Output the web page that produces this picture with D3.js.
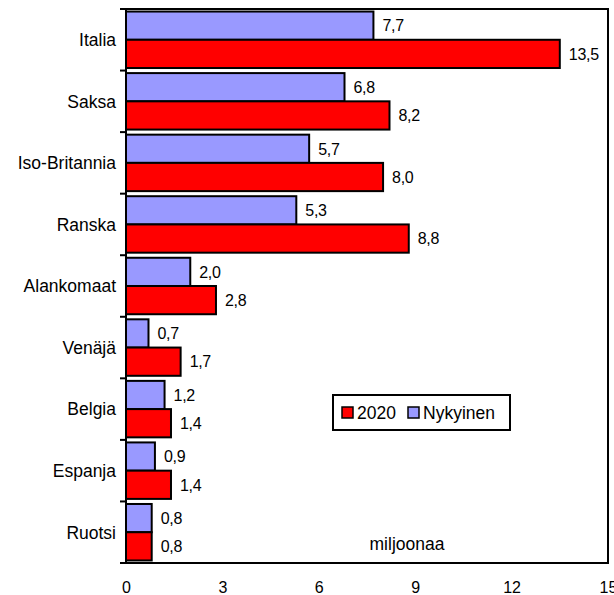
<!DOCTYPE html>
<html>
<head>
<meta charset="utf-8">
<script src="https://cdn.jsdelivr.net/npm/d3@7"></script>
<style>
  html, body { margin: 0; padding: 0; background: #fff; }
  svg { display: block; font-family: "Liberation Sans", Arial, sans-serif; }
</style>
</head>
<body>
<svg id="chart" width="614" height="595"></svg>
<script>
// Matkailijamäärät maittain (miljoonaa)
const countries = ["Italia", "Saksa", "Iso-Britannia", "Ranska", "Alankomaat", "Venäjä", "Belgia", "Espanja", "Ruotsi"];
const current = [7.7, 6.8, 5.7, 5.3, 2.0, 0.7, 1.2, 0.9, 0.8];   // Nykyinen
const future2020 = [13.5, 8.2, 8.0, 8.8, 2.8, 1.7, 1.4, 1.4, 0.8]; // 2020
const xTicks = [0, 3, 6, 9, 12, 15];
const seriesNames = ["Nykyinen", "2020"];
const seriesColors = ["#9999FF", "#FF0000"];

const svg = d3.select("#chart");
const margin = { left: 126, right: 6, top: 9, bottom: 32 };
const W = 614, H = 595;
const x0 = margin.left, x1 = W - margin.right, y0 = margin.top, y1 = H - margin.bottom;

const x = d3.scaleLinear().domain([0, 15]).range([x0, x1]);
const y = d3.scaleBand().domain(countries).range([y0, y1]).paddingInner(0).paddingOuter(0);
const inner = d3.scaleBand().domain(seriesNames).range([0, y.bandwidth()]).paddingInner(0).paddingOuter(0.09);

const fmt = v => d3.format(".1f")(v).replace(".", ",");

// plot frame
svg.append("rect")
  .attr("x", x0).attr("y", y0).attr("width", x1 - x0).attr("height", y1 - y0)
  .attr("fill", "none").attr("stroke", "#000").attr("stroke-width", 2);

// bars
const rows = countries.map((c, i) => ({ c, vals: [current[i], future2020[i]] }));
const g = svg.append("g");
rows.forEach(r => {
  r.vals.forEach((v, k) => {
    const by = y(r.c) + inner(seriesNames[k]);
    g.append("rect")
      .attr("x", x(0)).attr("y", by)
      .attr("width", x(v) - x(0)).attr("height", inner.bandwidth())
      .attr("fill", seriesColors[k]).attr("stroke", "#000").attr("stroke-width", 2);
    g.append("text")
      .attr("x", x(v) + 9).attr("y", by + inner.bandwidth() / 2)
      .attr("dy", "0.36em").attr("font-size", 16).attr("letter-spacing", "-0.3")
      .text(fmt(v));
  });
});

// category axis with ticks at band boundaries
const yAxis = svg.append("g");
const bounds = countries.map(c => y(c)).concat([y1]);
bounds.forEach(b => {
  yAxis.append("line").attr("x1", x0 - 6).attr("x2", x0).attr("y1", b).attr("y2", b)
    .attr("stroke", "#000").attr("stroke-width", 2);
});
yAxis.append("line").attr("x1", x0).attr("x2", x0).attr("y1", y0).attr("y2", y1)
  .attr("stroke", "#000").attr("stroke-width", 2);
countries.forEach(c => {
  yAxis.append("text")
    .attr("x", 116).attr("y", y(c) + y.bandwidth() / 2)
    .attr("dy", "0.36em").attr("text-anchor", "end").attr("font-size", 17.5)
    .text(c);
});

// value axis labels
const xAxis = d3.axisBottom(x).tickValues(xTicks).tickSize(0).tickPadding(19).tickFormat(d => d);
svg.append("g").attr("transform", `translate(0,${y1})`).call(xAxis)
  .call(s => s.select(".domain").remove())
  .call(s => s.selectAll("text").attr("font-size", 16).attr("font-family", "Liberation Sans, Arial, sans-serif").attr("fill", "#000"));

// unit note
svg.append("text").attr("x", 407).attr("y", 550).attr("text-anchor", "middle")
  .attr("font-size", 17.5).text("miljoonaa");

// legend
const lg = svg.append("g").attr("transform", "translate(333,395)");
lg.append("rect").attr("width", 177).attr("height", 35).attr("fill", "#fff")
  .attr("stroke", "#000").attr("stroke-width", 2);
const legendItems = [
  { name: "2020", color: seriesColors[1], x: 9 },
  { name: "Nykyinen", color: seriesColors[0], x: 75 }
];
legendItems.forEach(it => {
  lg.append("rect").attr("x", it.x).attr("y", 12).attr("width", 11).attr("height", 11)
    .attr("fill", it.color).attr("stroke", "#000").attr("stroke-width", 1.5);
  lg.append("text").attr("x", it.x + 15).attr("y", 18).attr("dy", "0.36em")
    .attr("font-size", 17.5).text(it.name);
});
</script>
</body>
</html>
